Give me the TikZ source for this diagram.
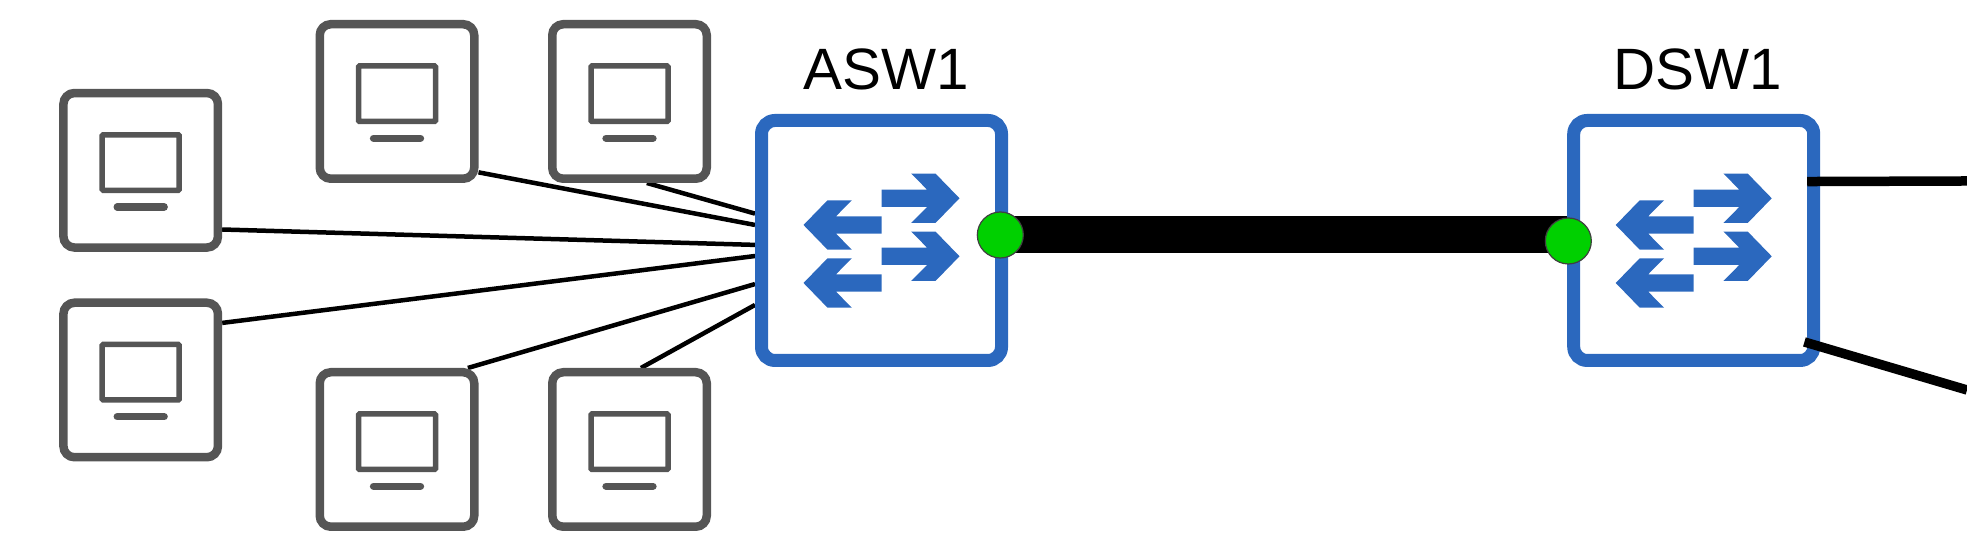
\documentclass[tikz,border=0pt]{standalone}
\usepackage{fontspec}
\setmainfont{Liberation Sans}
\usetikzlibrary{positioning,backgrounds}
\definecolor{swblue}{HTML}{2B68BE}
\definecolor{pcgray}{HTML}{555555}
\definecolor{portgreen}{HTML}{00D000}
\tikzset{
  pcnode/.style={rectangle, rounded corners=0.11cm, draw=pcgray, line width=0.085cm,
                 minimum size=1.545cm, inner sep=0},
  switchnode/.style={rectangle, rounded corners=0.135cm, draw=swblue, line width=0.13cm,
                     minimum size=2.4cm, inner sep=0},
  portdot/.style={circle, fill=portgreen, draw=black!75, line width=0.012cm,
                  minimum size=0.46cm, inner sep=0},
  swlabel/.style={inner sep=0, outer sep=0, font=\fontsize{16.6}{18}\selectfont},
  access/.style={draw, line width=0.045cm, black},
  trunk/.style={draw, line width=0.37cm, black},
  uplink/.style={draw, line width=0.095cm, black},
  pics/pcicon/.style={code={
    \draw[pcgray, line width=0.055cm, rounded corners=0.01cm] (-0.385,-0.2) rectangle (0.385,0.355);
    \draw[pcgray, line width=0.073cm, line cap=round] (-0.235,-0.367) -- (0.235,-0.367);
  }},
  pics/swarrows/.style={code={
    \foreach \yy in {0.422,-0.158}
      \fill[swblue, shift={(0,\yy)}] (0,0.087) -- (0.455,0.087) -- (0.297,0.247) -- (0.54,0.247)
        -- (0.78,0) -- (0.54,-0.247) -- (0.297,-0.247) -- (0.455,-0.087) -- (0,-0.087) -- cycle;
    \foreach \yy in {0.155,-0.425}
      \fill[swblue, shift={(0,\yy)}, xscale=-1] (0,0.087) -- (0.455,0.087) -- (0.297,0.247) -- (0.54,0.247)
        -- (0.78,0) -- (0.54,-0.247) -- (0.297,-0.247) -- (0.455,-0.087) -- (0,-0.087) -- cycle;
  }}
}
\begin{document}
\begin{tikzpicture}
\useasboundingbox (0,0) rectangle (19.67,5.44);
\foreach \nm/\cx/\cy in {pctl/3.97/4.425, pctr/6.295/4.425, pcup/1.407/3.737, pclo/1.407/1.64, pcbl/3.97/0.945, pcbr/6.295/0.945} {
  \node[pcnode] (\nm) at (\cx,\cy) {};
  \pic at (\nm) {pcicon};
}
\node[switchnode] (asw1) at (8.815,3.035) {};
\node[switchnode] (dsw1) at (16.937,3.035) {};
\pic at (asw1) {swarrows};
\pic at (dsw1) {swarrows};
\node[swlabel, above=0.24cm of asw1, xshift=0.05cm] (asw1label) {ASW1};
\node[swlabel, above=0.24cm of dsw1, xshift=0.04cm] (dsw1label) {DSW1};
\node[portdot] (aswport) at (10.003,3.09) {};
\node[portdot] (dswport) at (15.683,3.03) {};
\coordinate (upperend) at (19.67,3.63);
\coordinate (lowerend) at (19.67,1.54);
\begin{scope}[on background layer]
  \foreach \nm/\aa/\bb in {pctl/-41.2/173.9, pctr/-78.8/168.4, pcup/-36.5/182.8, pclo/35.6/187, pcbl/49.2/199.4, pcbr/82.6/207.6}
    \draw[access] (\nm.\aa) -- (asw1.\bb);
  \draw[trunk] (aswport.center) -- (aswport.center -| dswport.center);
\end{scope}
\draw[uplink, shorten <=-0.13cm] (dsw1.25.2) -- (upperend);
\draw[uplink, shorten <=-0.165cm] (dsw1.-40) -- (lowerend);
\end{tikzpicture}
\end{document}
